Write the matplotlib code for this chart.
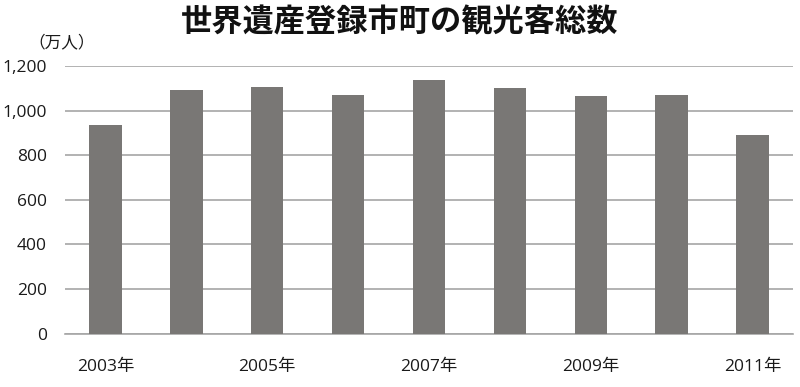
import numpy as np
import matplotlib.pyplot as plt

plt.rcParams['font.family'] = ['Noto Sans CJK JP', 'DejaVu Sans']

# 観光客総数（万人）
years = [2003, 2004, 2005, 2006, 2007, 2008, 2009, 2010, 2011]
visitors = [937, 1092, 1107, 1072, 1139, 1103, 1066, 1071, 891]
yticks = [0, 200, 400, 600, 800, 1000, 1200]

fig = plt.figure(figsize=(8, 3.87), dpi=100)
ax = fig.add_axes([65 / 800, 1 - 333.5 / 387, 728 / 800, 267.5 / 387])

x = np.arange(len(years))
ax.bar(x, visitors, width=0.4, color='#797775', zorder=3)

tick_font = ['Open Sans', 'Noto Sans CJK JP']
ax.set_xlim(-0.5, len(years) - 0.5)
ax.set_ylim(0, 1200)
ax.set_yticks(yticks)
ax.set_yticklabels([f'{v:,}' for v in yticks], family=tick_font, fontsize=12.5)
ax.set_xticks(x)
ax.set_xticklabels([f'{y}年' if i % 2 == 0 else '' for i, y in enumerate(years)],
                   family=tick_font, fontsize=12.5)
ax.grid(axis='y', color='#a6a6a6', linewidth=1.2, zorder=0)
ax.tick_params(axis='both', length=0, colors='#1a1a1a')
ax.tick_params(axis='y', pad=13)
ax.tick_params(axis='x', pad=18)
for s in ['top', 'right', 'left']:
    ax.spines[s].set_visible(False)
ax.spines['bottom'].set_color('#a6a6a6')
ax.spines['bottom'].set_linewidth(1.2)

fig.text(0.5, 1 - 22 / 387, '世界遺産登録市町の観光客総数', ha='center', va='center',
         fontsize=22.5, fontweight='bold', color='#111111')
fig.text(28 / 800, 1 - 43 / 387, '（万人）', ha='left', va='center',
         fontsize=12, color='#1a1a1a')

plt.savefig('out.png', dpi=100)
